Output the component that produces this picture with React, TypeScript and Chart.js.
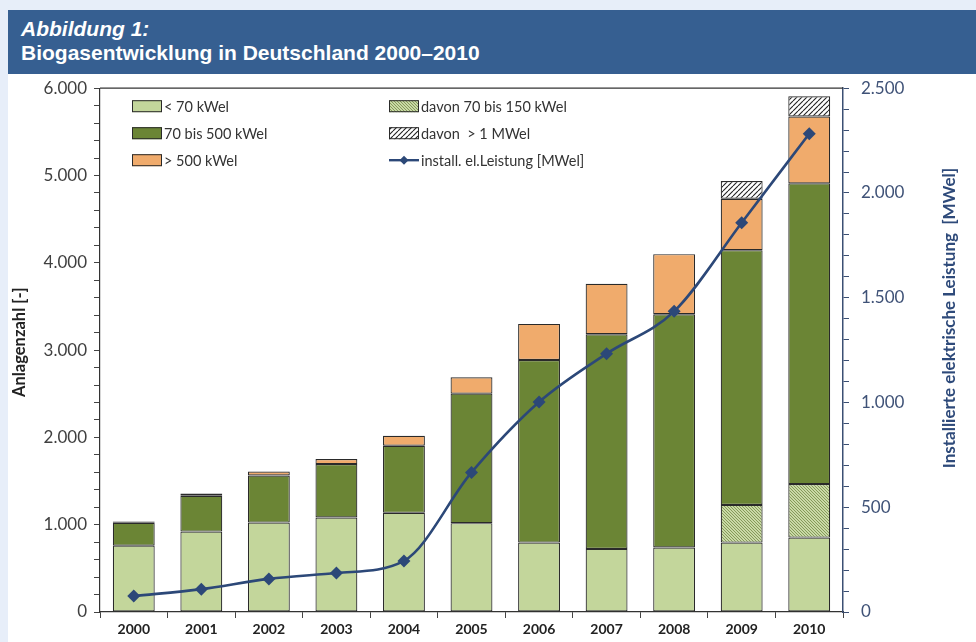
import React, { useEffect, useRef } from 'react';
import { Chart, registerables } from 'chart.js';

Chart.register(...registerables);

// ---------- data ----------
const years = ['2000', '2001', '2002', '2003', '2004', '2005', '2006', '2007', '2008', '2009', '2010'];
const under70 = [760, 921, 1024, 1082, 1136, 1018, 795, 723, 738, 795, 852];
const davon70to150 = [0, 0, 0, 0, 0, 0, 0, 0, 0, 432, 613];
const from70to500 = [261, 410, 540, 612, 768, 1483, 2092, 2458, 2673, 2918, 3445];
const over500 = [15, 26, 45, 58, 115, 187, 413, 578, 688, 589, 765];
const davonOver1MW = [0, 0, 0, 0, 0, 0, 0, 0, 0, 203, 233];
const leistung = [76, 109, 158, 186, 244, 666, 1002, 1233, 1435, 1858, 2283];

const seriesLabels = [
  '< 70 kWel',
  'davon 70 bis 150 kWel',
  '70 bis 500 kWel',
  '> 500 kWel',
  'davon  > 1 MWel',
  'install. el.Leistung [MWel]',
];
const leftTitle = 'Anlagenzahl [-]';
const rightTitle = 'Installierte elektrische Leistung  [MWel]';
const headerLine1 = 'Abbildung 1:';
const headerLine2 = 'Biogasentwicklung in Deutschland 2000–2010';

// ---------- styles ----------
const FONT = 'Lato, "Open Sans", sans-serif';
const C_LIGHT = '#c3d69b';
const C_DARK = '#6b8535';
const C_ORANGE = '#f0ab6c';
const C_LINE = '#2c4878';
const C_BORDER = '#2a2a2a';

function hatch(bg: string, fg: string, size: number, lw: number, dir: 1 | -1) {
  const c = document.createElement('canvas');
  c.width = size;
  c.height = size;
  const g = c.getContext('2d')!;
  g.fillStyle = bg;
  g.fillRect(0, 0, size, size);
  g.strokeStyle = fg;
  g.lineWidth = lw;
  g.beginPath();
  for (let k = -1; k <= 1; k++) {
    if (dir === 1) {
      g.moveTo(k * size, size);
      g.lineTo(k * size + size, 0);
    } else {
      g.moveTo(k * size, 0);
      g.lineTo(k * size + size, size);
    }
  }
  g.stroke();
  return g.createPattern(c, 'repeat')!;
}

const fmt = (v: number) => String(v).replace(/\B(?=(\d{3})+(?!\d))/g, '.');

export default function App() {
  const ref = useRef<HTMLCanvasElement | null>(null);

  useEffect(() => {
    const canvas = ref.current!;
    const patGreen = hatch('#c9d9a6', '#7d9350', 3, 0.9, -1);
    const patBlack = hatch('#ffffff', '#222222', 5, 1.1, 1);
    const fills: any[] = [C_LIGHT, patGreen, C_DARK, C_ORANGE, patBlack];
    const values = [under70, davon70to150, from70to500, over500, davonOver1MW];

    const barSets = values.map((d, i) => ({
      type: 'bar' as const,
      label: seriesLabels[i],
      data: d,
      backgroundColor: fills[i],
      borderColor: C_BORDER,
      borderWidth: 1.2,
      borderSkipped: false,
      yAxisID: 'y',
      stack: 's',
      order: 2,
      categoryPercentage: 1,
      barPercentage: 0.62,
    }));

    const lineSet = {
      type: 'line' as const,
      label: seriesLabels[5],
      data: leistung,
      borderColor: C_LINE,
      backgroundColor: C_LINE,
      borderWidth: 2.6,
      pointStyle: 'rectRot',
      pointRadius: 6.5,
      pointBorderWidth: 0,
      cubicInterpolationMode: 'monotone' as const,
      yAxisID: 'y1',
      order: 0,
    };

    const decor = {
      id: 'decor',
      afterDraw(chart: any) {
        const { ctx, chartArea } = chart;
        const { left, right, top, bottom } = chartArea;
        ctx.save();
        // top frame line
        ctx.strokeStyle = '#333';
        ctx.lineWidth = 1.2;
        ctx.beginPath();
        ctx.moveTo(left, top);
        ctx.lineTo(right, top);
        ctx.stroke();
        ctx.restore();

        // right axis title (reads bottom to top)
        ctx.save();
        ctx.translate(right + 107, (top + bottom) / 2 - 32);
        ctx.rotate(-Math.PI / 2);
        ctx.fillStyle = '#2e4a7a';
        ctx.font = `bold 17px ${FONT}`;
        ctx.textAlign = 'center';
        ctx.textBaseline = 'middle';
        ctx.fillText(rightTitle, 0, 0);
        ctx.restore();

        // left axis title
        ctx.save();
        ctx.translate(left - 80, (top + bottom) / 2 - 8);
        ctx.rotate(-Math.PI / 2);
        ctx.fillStyle = '#222';
        ctx.font = `bold 16.5px ${FONT}`;
        ctx.textAlign = 'center';
        ctx.textBaseline = 'middle';
        ctx.fillText(leftTitle, 0, 0);
        ctx.restore();

        // legend
        ctx.save();
        const slots = [
          [0, 0],
          [1, 0],
          [0, 1],
          [0, 2],
          [1, 1],
          [1, 2],
        ];
        const colX = [left + 32, left + 289];
        const rowY = [top + 18, top + 45, top + 72];
        ctx.font = `14.5px ${FONT}`;
        ctx.textBaseline = 'middle';
        ctx.textAlign = 'left';
        chart.data.datasets.forEach((ds: any, i: number) => {
          const [c, r] = slots[i];
          const x = colX[c];
          const y = rowY[r];
          if (ds.type === 'line') {
            ctx.strokeStyle = ds.borderColor;
            ctx.lineWidth = 2.4;
            ctx.beginPath();
            ctx.moveTo(x, y);
            ctx.lineTo(x + 30, y);
            ctx.stroke();
            ctx.fillStyle = ds.borderColor;
            ctx.beginPath();
            ctx.moveTo(x + 15, y - 4.5);
            ctx.lineTo(x + 19.5, y);
            ctx.lineTo(x + 15, y + 4.5);
            ctx.lineTo(x + 10.5, y);
            ctx.closePath();
            ctx.fill();
          } else {
            ctx.fillStyle = ds.backgroundColor;
            ctx.fillRect(x, y - 6, 30, 12);
            ctx.strokeStyle = C_BORDER;
            ctx.lineWidth = 1;
            ctx.strokeRect(x + 0.5, y - 5.5, 29, 11);
          }
          ctx.fillStyle = '#333';
          ctx.fillText(ds.label, x + 32, y + 1);
        });
        ctx.restore();
      },
    };

    const chart = new Chart(canvas, {
      data: { labels: years, datasets: [...barSets, lineSet] as any },
      options: {
        animation: false,
        responsive: false,
        layout: { padding: { top: 8, left: 0, right: 0, bottom: 0 } },
        plugins: { legend: { display: false }, tooltip: { enabled: false } },
        scales: {
          x: {
            stacked: true,
            offset: true,
            grid: { offset: true, drawOnChartArea: false, drawTicks: true, tickLength: 6, color: '#444' },
            border: { display: true, color: '#333', width: 1.2 },
            ticks: {
              font: { family: FONT, size: 14, weight: 'bold' },
              color: '#222',
              padding: 3,
              autoSkip: false,
              maxRotation: 0,
            },
            afterFit: (s: any) => {
              s.height = 30;
            },
          },
          y: {
            stacked: true,
            position: 'left',
            min: 0,
            max: 6000,
            grid: { drawOnChartArea: false, drawTicks: true, tickLength: 6, color: '#444' },
            border: { display: true, color: '#333', width: 1.2 },
            ticks: {
              stepSize: 200,
              autoSkip: false,
              padding: 7,
              color: '#404040',
              font: { family: FONT, size: 17 },
              callback: (v: any) => (Number(v) % 1000 === 0 ? fmt(Number(v)) : ''),
            },
            afterFit: (s: any) => {
              s.width = 92;
            },
          },
          y1: {
            position: 'right',
            min: 0,
            max: 2500,
            grid: { drawOnChartArea: false, drawTicks: true, tickLength: 6, color: '#3b4f73' },
            border: { display: true, color: '#3b4f73', width: 1.5 },
            ticks: {
              stepSize: 100,
              autoSkip: false,
              padding: 12,
              color: '#3f5277',
              font: { family: FONT, size: 17 },
              callback: (v: any) => (Number(v) % 500 === 0 ? fmt(Number(v)) : ''),
            },
            afterFit: (s: any) => {
              s.width = 133;
            },
          },
        },
      } as any,
      plugins: [decor],
    });

    return () => chart.destroy();
  }, []);

  return (
    <div
      style={{
        position: 'fixed',
        left: 0,
        top: 0,
        width: 976,
        height: 642,
        background: '#e7eef9',
        overflow: 'hidden',
      }}
    >
      <div
        style={{
          position: 'absolute',
          left: 8,
          top: 10,
          width: 968,
          height: 64,
          background: '#365f91',
          color: '#ffffff',
          fontFamily: '"Liberation Sans", Arial, sans-serif',
          fontWeight: 'bold',
          fontSize: 21,
          lineHeight: '24px',
          boxSizing: 'border-box',
          padding: '7px 0 0 13px',
        }}
      >
        <div style={{ fontStyle: 'italic' }}>{headerLine1}</div>
        <div>{headerLine2}</div>
      </div>
      <div
        style={{
          position: 'absolute',
          left: 8,
          top: 74,
          width: 968,
          height: 568,
          background: '#ffffff',
        }}
      />
      <canvas
        ref={ref}
        width={968}
        height={576}
        style={{ display: 'block', position: 'absolute', left: 8, top: 66 }}
      />
    </div>
  );
}
